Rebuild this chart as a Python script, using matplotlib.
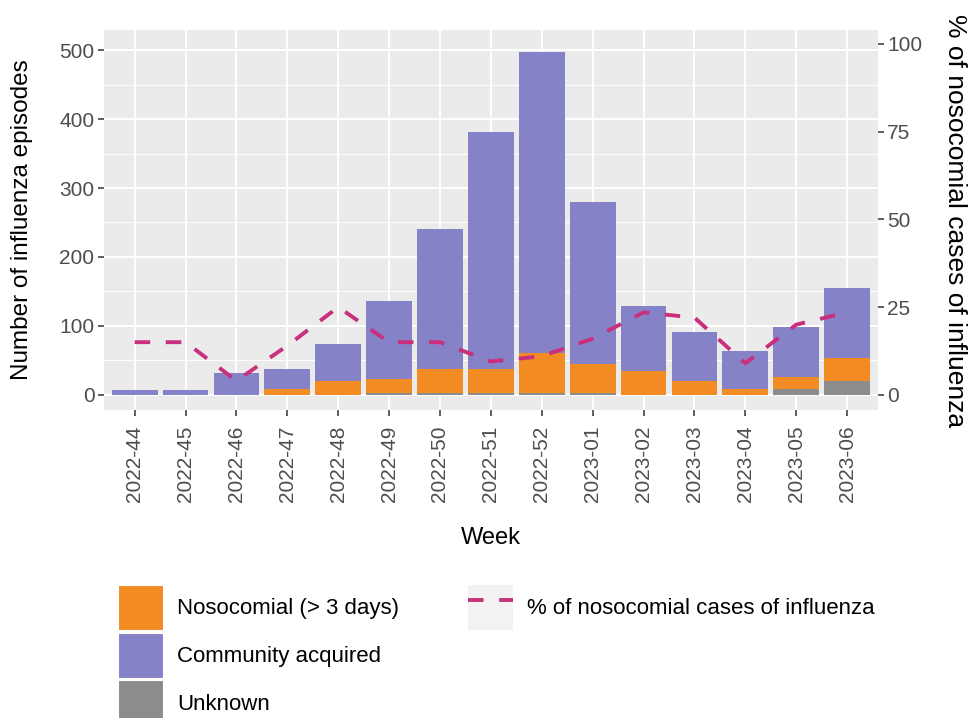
import numpy as np
import matplotlib
matplotlib.use("Agg")
import matplotlib.pyplot as plt
from matplotlib.patches import Patch, Rectangle
from matplotlib.lines import Line2D
from matplotlib.legend_handler import HandlerLine2D
from matplotlib.ticker import MultipleLocator

plt.rcParams['font.family'] = ['Liberation Sans', 'DejaVu Sans']

# --- data ---
weeks = ['2022-44', '2022-45', '2022-46', '2022-47', '2022-48', '2022-49', '2022-50',
         '2022-51', '2022-52', '2023-01', '2023-02', '2023-03', '2023-04', '2023-05', '2023-06']
unknown = [0, 0, 0, 0, 0, 2, 2, 2, 2, 2, 0, 0, 0, 9, 20]
nosocomial = [0, 0, 0, 9, 20, 21, 36, 36, 59, 42, 35, 20, 9, 17, 33]
community = [7, 7, 32, 29, 53, 113, 203, 343, 436, 235, 94, 71, 55, 73, 102]
pct_nosocomial = [15, 15, 4, 14, 25, 15, 15, 9.5, 11, 16, 23.5, 22, 9, 20, 23.5]

sec_factor = 5.09  # right axis = left axis / factor

c_noso = '#F18B22'
c_comm = '#8682C8'
c_unk = '#8C8C8C'
c_line = '#C8307E'


class HandlerLineBg(HandlerLine2D):
    # legend key with grey background like ggplot
    def create_artists(self, legend, orig_handle, xdescent, ydescent, width, height, fontsize, trans):
        bg = Rectangle((-xdescent, -ydescent), width, height, facecolor='#F2F2F2',
                       edgecolor='none', transform=trans)
        arts = super().create_artists(legend, orig_handle, xdescent, ydescent,
                                      width, height, fontsize, trans)
        return [bg] + list(arts)


fig = plt.figure(figsize=(9.73, 7.18), dpi=100)
ax = fig.add_axes([0.107, 0.429, 0.795, 0.529])

x = np.arange(len(weeks))
unk = np.array(unknown)
noso = np.array(nosocomial)
comm = np.array(community)

ax.bar(x, unk, width=0.9, color=c_unk, zorder=3)
ax.bar(x, noso, width=0.9, bottom=unk, color=c_noso, zorder=3)
ax.bar(x, comm, width=0.9, bottom=unk + noso, color=c_comm, zorder=3)

ax.set_facecolor('#EBEBEB')
for s in ax.spines.values():
    s.set_visible(False)
ax.set_xlim(-0.6, len(weeks) - 0.4)
ax.set_ylim(-22, 529)
ax.yaxis.set_major_locator(MultipleLocator(100))
ax.yaxis.set_minor_locator(MultipleLocator(50))
ax.set_xticks(x)
ax.set_xticklabels(weeks, rotation=90)
ax.grid(which='major', color='white', linewidth=1.4, zorder=0)
ax.grid(which='minor', axis='y', color='white', linewidth=0.7, zorder=0)
ax.set_axisbelow(True)
ax.tick_params(axis='both', which='major', length=4, width=1.1, color='#333333',
               labelcolor='#4D4D4D', labelsize=15, pad=3)
ax.tick_params(axis='x', pad=7)
ax.tick_params(axis='y', which='minor', length=0)
ax.set_xlabel('Week', fontsize=17, ha='center', va='center')
ax.xaxis.set_label_coords(0.5, -0.337)
ax.set_ylabel('Number of influenza episodes', fontsize=17.5, ha='center', va='center')
ax.yaxis.set_label_coords(-0.106, 0.5)

ax2 = ax.twinx()
lo, hi = ax.get_ylim()
ax2.set_ylim(lo / sec_factor, hi / sec_factor)
ax2.yaxis.set_major_locator(MultipleLocator(25))
for s in ax2.spines.values():
    s.set_visible(False)
ax2.tick_params(axis='y', length=4, width=1.1, color='#333333',
                labelcolor='#4D4D4D', labelsize=15, pad=3)
line, = ax2.plot(x, pct_nosocomial, color=c_line, linewidth=2.8, zorder=4)
line.set_dashes((4, 4))
ax2.set_ylabel('% of nosocomial cases of influenza', fontsize=19, rotation=-90,
               ha='center', va='center')
ax2.yaxis.set_label_coords(1.1, 0.5)

bar_handles = [Patch(facecolor=c_noso, edgecolor='white', linewidth=0.8),
               Patch(facecolor=c_comm, edgecolor='white', linewidth=0.8),
               Patch(facecolor=c_unk, edgecolor='white', linewidth=0.8)]
bar_labels = ['Nosocomial (> 3 days)', 'Community acquired', 'Unknown']
leg1 = fig.legend(bar_handles, bar_labels, loc='upper left',
                  bbox_to_anchor=(0.121, 0.185), bbox_transform=fig.transFigure,
                  frameon=False, fontsize=16, handlelength=2.03, handleheight=2.75,
                  labelspacing=0.11, handletextpad=0.63, borderpad=0, borderaxespad=0)

lh = Line2D([], [], color=c_line, linewidth=2.8)
lh.set_dashes((4, 4))
leg2 = fig.legend([lh], ['% of nosocomial cases of influenza'], loc='upper left',
                  bbox_to_anchor=(0.481, 0.185), bbox_transform=fig.transFigure,
                  frameon=False, fontsize=16, handlelength=2.03, handleheight=2.75,
                  handletextpad=0.63, borderpad=0, borderaxespad=0,
                  handler_map={Line2D: HandlerLineBg()})

fig.savefig('out.png', dpi=100)
